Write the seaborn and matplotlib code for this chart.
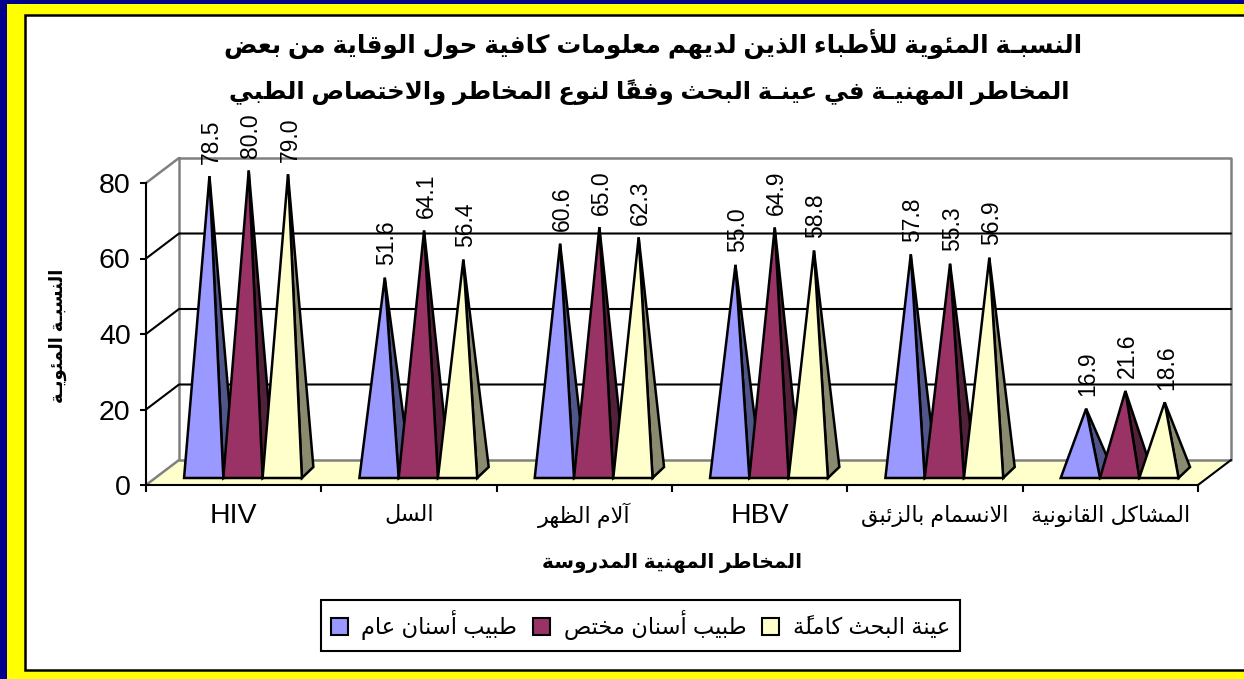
import matplotlib
matplotlib.use("Agg")
import matplotlib.pyplot as plt
from matplotlib.colors import to_hex
from matplotlib.patches import Polygon, Rectangle
import numpy as np
import pandas as pd
import seaborn as sns

categories = ["HIV", "السل", "آلام الظهر", "HBV", "الانسمام بالزئبق", "المشاكل القانونية"]
general = [78.5, 51.6, 60.6, 55.0, 57.8, 16.9]
specialist = [80.0, 64.1, 65.0, 64.9, 55.3, 21.6]
whole_sample = [79.0, 56.4, 62.3, 58.8, 56.9, 18.6]
series_names = ["طبيب أسنان عام", "طبيب أسنان مختص", "عينة البحث كاملةً"]
y_ticks = [0, 20, 40, 60, 80]
title_lines = [
    "النسبـة المئوية للأطباء الذين لديهم معلومات كافية حول الوقاية من بعض",
    "المخاطر المهنيـة في عينـة البحث وفقاً لنوع المخاطر والاختصاص الطبي",
]
x_label = "المخاطر المهنية المدروسة"
y_label = "النسبـة المئويـة"

front_colors = ["#9999FF", "#993366", "#FFFFCC"]
side_colors = ["#50568A", "#53203A", "#8A8A6E"]

W, H = 1244, 679
LEFT, RIGHT, BOTTOM, TOP = 146, 1198, 485, 183

# arabic presentation forms, matplotlib does no shaping by itself
DUAL = {"ئ": 0xFE89, "ب": 0xFE8F, "ت": 0xFE95, "ث": 0xFE99, "ج": 0xFE9D, "ح": 0xFEA1, "خ": 0xFEA5,
        "س": 0xFEB1, "ش": 0xFEB5, "ص": 0xFEB9, "ض": 0xFEBD, "ط": 0xFEC1, "ظ": 0xFEC5, "ع": 0xFEC9,
        "غ": 0xFECD, "ف": 0xFED1, "ق": 0xFED5, "ك": 0xFED9, "ل": 0xFEDD, "م": 0xFEE1, "ن": 0xFEE5,
        "ه": 0xFEE9, "ي": 0xFEF1}
RIGHT_ONLY = {"آ": 0xFE81, "أ": 0xFE83, "ؤ": 0xFE85, "إ": 0xFE87, "ا": 0xFE8D, "ة": 0xFE93, "د": 0xFEA9,
              "ذ": 0xFEAB, "ر": 0xFEAD, "ز": 0xFEAF, "و": 0xFEED, "ى": 0xFEEF}
LAM_ALEF = {"آ": 0xFEF5, "أ": 0xFEF7, "إ": 0xFEF9, "ا": 0xFEFB}
MARKS = "\u064b\u064c\u064d\u064e\u064f\u0650\u0651\u0652"
KASHIDA = "\u0640"


def shape(text):
    if not any("\u0600" <= c <= "\u06ff" for c in text):
        return text
    chars = [c for c in text if c not in MARKS]
    marks = {}
    n = -1
    for c in text:
        if c in MARKS:
            marks[n] = marks.get(n, "") + c
        else:
            n += 1
    clusters = []
    i = 0
    while i < len(chars):
        c = chars[i]
        prev_joins = i > 0 and (chars[i - 1] in DUAL or chars[i - 1] == KASHIDA)
        nxt = chars[i + 1] if i + 1 < len(chars) else ""
        next_joins = nxt in DUAL or nxt in RIGHT_ONLY or nxt == KASHIDA
        if c == "ل" and nxt in LAM_ALEF:
            glyph = chr(LAM_ALEF[nxt] + (1 if prev_joins else 0))
            clusters.append(glyph + marks.get(i + 1, ""))
            i += 2
            continue
        if c in DUAL:
            if prev_joins and next_joins:
                glyph = chr(DUAL[c] + 3)
            elif next_joins:
                glyph = chr(DUAL[c] + 2)
            elif prev_joins:
                glyph = chr(DUAL[c] + 1)
            else:
                glyph = chr(DUAL[c])
        elif c in RIGHT_ONLY:
            glyph = chr(RIGHT_ONLY[c] + (1 if prev_joins else 0))
        else:
            glyph = c
        clusters.append(glyph + marks.get(i, ""))
        i += 1
    return "".join(reversed(clusters))


sns.set_theme(style="ticks")
plt.rcParams["font.family"] = ["Liberation Sans", "DejaVu Sans"]

df = pd.DataFrame({
    "category": categories * 3,
    "series": [s for s in series_names for _ in categories],
    "value": general + specialist + whole_sample,
})

fig = plt.figure(figsize=(W / 100, H / 100), dpi=100, facecolor="#FFFF00")
ax = fig.add_axes([LEFT / W, 1 - BOTTOM / H, (RIGHT - LEFT) / W, (BOTTOM - TOP) / H])
ax.patch.set_alpha(0)

# page frame
fig.add_artist(Rectangle((25 / W, 1 - 670 / H), 1.1, 655 / H, transform=fig.transFigure,
                         facecolor="white", edgecolor="black", linewidth=1.8, zorder=-1))
fig.add_artist(Rectangle((0, 0), 7 / W, 1, transform=fig.transFigure, facecolor="#00008C",
                         edgecolor="none", zorder=-1))
fig.add_artist(Rectangle((0, 1 - 4 / H), 1, 4 / H, transform=fig.transFigure, facecolor="#00008C",
                         edgecolor="none", zorder=-1))

sns.barplot(data=df, x="category", y="value", hue="series", order=categories, hue_order=series_names,
            palette=dict(zip(series_names, front_colors)), width=0.672, gap=0, errorbar=None,
            saturation=1, ax=ax)
ax.set_xlim(-0.5, len(categories) - 0.5)
ax.set_ylim(0, 80)
# seaborn also leaves empty patches for the legend, skip those
bars = sorted([b for b in ax.patches if b.get_height() > 0], key=lambda b: b.get_x())

px_x = (len(categories)) / (RIGHT - LEFT)
px_y = 80 / (BOTTOM - TOP)
wall_dx, wall_dy = 33 * px_x, 25 * px_y
shift_x, shift_y = 9.3 * px_x, 7 * px_y
depth_x, depth_y = 11.5 * px_x, 11 * px_y
x_min, x_max = -0.5, len(categories) - 0.5

# walls and floor of the fake 3d box
ax.add_patch(Polygon([(x_min, 0), (x_max, 0), (x_max + wall_dx, wall_dy), (x_min + wall_dx, wall_dy)],
                     closed=True, facecolor="#FFFFCC", edgecolor="none", clip_on=False, zorder=1))
ax.plot([x_min + wall_dx, x_max + wall_dx, x_max + wall_dx, x_min + wall_dx, x_min + wall_dx],
        [80 + wall_dy, 80 + wall_dy, wall_dy, wall_dy, 80 + wall_dy],
        color="#808080", lw=1.8, clip_on=False, zorder=1.5)
ax.plot([x_min, x_min + wall_dx], [80, 80 + wall_dy], color="#808080", lw=1.8, clip_on=False, zorder=1.5)
ax.plot([x_min, x_min + wall_dx], [0, wall_dy], color="#808080", lw=1.8, clip_on=False, zorder=1.5)
ax.plot([x_max, x_max + wall_dx], [0, wall_dy], color="black", lw=1.5, clip_on=False, zorder=1.5)
for t in y_ticks[1:-1]:
    ax.plot([x_min, x_min + wall_dx, x_max + wall_dx], [t, t + wall_dy, t + wall_dy],
            color="black", lw=1.5, clip_on=False, zorder=1.6)

# swap each seaborn bar for a pyramid standing in the same slot
side_by_front = {c.lower(): s for c, s in zip(front_colors, side_colors)}
for k, bar in enumerate(bars):
    x0 = bar.get_x() + shift_x
    x1 = x0 + bar.get_width()
    h = bar.get_height()
    color = bar.get_facecolor()
    bar.set_visible(False)
    apex = ((x0 + x1) / 2 + depth_x / 2, h + shift_y + depth_y / 2)
    ax.add_patch(Polygon([(x1, shift_y), (x1 + depth_x, shift_y + depth_y), apex], closed=True,
                         facecolor=side_by_front[to_hex(color)], edgecolor="black", linewidth=1.8,
                         joinstyle="miter", clip_on=False, zorder=3 + k * 0.01))
    ax.add_patch(Polygon([(x0, shift_y), (x1, shift_y), apex], closed=True, facecolor=color,
                         edgecolor="black", linewidth=1.8, joinstyle="miter", clip_on=False,
                         zorder=3 + k * 0.01))
    ax.annotate(f"{h:.1f}", xy=apex, xytext=(1.5, 9), textcoords="offset points", rotation=90,
                ha="center", va="bottom", fontsize=16.5, color="black", zorder=5, annotation_clip=False)

sns.despine(ax=ax)
for side in ["left", "bottom"]:
    ax.spines[side].set_color("black")
    ax.spines[side].set_linewidth(1.5)
    ax.spines[side].set_zorder(2)

ax.set_yticks(y_ticks)
ax.tick_params(axis="y", length=4, width=1.5, color="black", pad=7, labelsize=20.5, labelcolor="black")
ax.set_xticks(range(len(categories)))
ax.set_xticklabels([shape(c) for c in categories])
ax.set_xticks(np.arange(len(categories) + 1) - 0.5, minor=True)
ax.tick_params(axis="x", which="major", length=0, pad=22, labelsize=20.5, labelcolor="black")
ax.tick_params(axis="x", which="minor", length=5, width=1.5, color="black")
for label in ax.get_xticklabels():
    label.set_verticalalignment("center")
    if label.get_text() not in ("HIV", "HBV"):
        label.set_fontsize(16)

ax.set_xlabel(shape(x_label), fontsize=14.5, fontweight="bold", color="black")
ax.xaxis.set_label_coords((672 - LEFT) / (RIGHT - LEFT), (BOTTOM - 563) / (BOTTOM - TOP))
ax.xaxis.label.set_verticalalignment("center")
ax.set_ylabel(shape(y_label), fontsize=12.8, fontweight="bold", color="black", va="center")
ax.yaxis.set_label_coords((58 - LEFT) / (RIGHT - LEFT), (BOTTOM - 336) / (BOTTOM - TOP))

fig.text(653 / W, 1 - 44 / H, shape(title_lines[0]), ha="center", va="center", fontsize=17.8,
         fontweight="bold", color="black")
fig.text(649 / W, 1 - 92 / H, shape(title_lines[1]), ha="center", va="center", fontsize=17.6,
         fontweight="bold", color="black")

sns.move_legend(ax, "center", bbox_to_anchor=((640.5 - LEFT) / (RIGHT - LEFT), (BOTTOM - 625.5) / (BOTTOM - TOP)),
                ncol=3, title="", frameon=True, fancybox=False, edgecolor="black", framealpha=1,
                fontsize=16.3, handlelength=0.75, handleheight=0.75, handletextpad=0.6,
                columnspacing=0.7, borderpad=0.45, borderaxespad=0)
legend = ax.get_legend()
legend.get_frame().set_linewidth(1.5)
for text, handle in zip(legend.get_texts(), legend.get_patches()):
    text.set_text(shape(text.get_text()))
    text.set_color("black")
    handle.set_edgecolor("black")
    handle.set_linewidth(1.5)

fig.savefig("out.png", dpi=100, facecolor=fig.get_facecolor())
